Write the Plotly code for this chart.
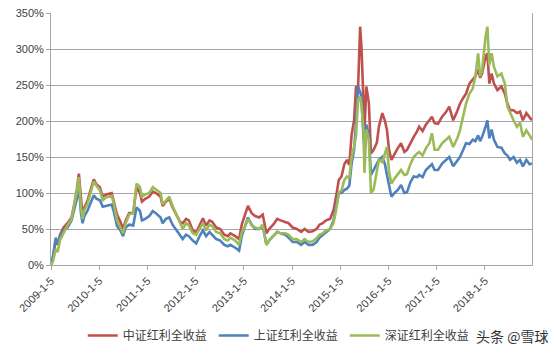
import plotly.graph_objects as go

dates = [
    "2009-01-05", "2009-01-20", "2009-02-10", "2009-02-25", "2009-03-15", "2009-04-10",
    "2009-05-10", "2009-06-10", "2009-07-01", "2009-07-20", "2009-08-04", "2009-08-20",
    "2009-09-01", "2009-09-15", "2009-10-10", "2009-11-10", "2009-11-25", "2009-12-15",
    "2010-01-10", "2010-02-01", "2010-03-01", "2010-04-10", "2010-04-25", "2010-05-20",
    "2010-06-15", "2010-07-05", "2010-07-25", "2010-08-20", "2010-09-20", "2010-10-15",
    "2010-11-10", "2010-11-25", "2010-12-20", "2011-01-20", "2011-02-15", "2011-03-10",
    "2011-04-15", "2011-05-01", "2011-05-25", "2011-06-20", "2011-07-15", "2011-08-15",
    "2011-09-10", "2011-09-30", "2011-10-25", "2011-11-15", "2011-12-15", "2012-01-10",
    "2012-02-10", "2012-03-01", "2012-03-25", "2012-04-20", "2012-05-10", "2012-06-10",
    "2012-07-10", "2012-08-10", "2012-09-05", "2012-09-25", "2012-11-01", "2012-11-30",
    "2012-12-20", "2013-01-20", "2013-02-05", "2013-03-05", "2013-04-01", "2013-05-01",
    "2013-05-28", "2013-06-25", "2013-07-15", "2013-08-15", "2013-09-15", "2013-10-10",
    "2013-11-15", "2013-12-10", "2014-01-10", "2014-02-10", "2014-03-15", "2014-04-10",
    "2014-05-10", "2014-06-10", "2014-07-10", "2014-08-01", "2014-08-25", "2014-09-20",
    "2014-10-20", "2014-11-15", "2014-12-05", "2014-12-25", "2015-01-15", "2015-02-05",
    "2015-02-25", "2015-03-15", "2015-04-01", "2015-04-20", "2015-05-05", "2015-05-20",
    "2015-06-05", "2015-06-15", "2015-06-30", "2015-07-08", "2015-07-22", "2015-08-10",
    "2015-08-26", "2015-09-15", "2015-10-10", "2015-10-25", "2015-11-20", "2015-12-10",
    "2015-12-25", "2016-01-10", "2016-01-28", "2016-02-20", "2016-03-15", "2016-04-10",
    "2016-05-05", "2016-05-25", "2016-06-20", "2016-07-15", "2016-08-10", "2016-08-25",
    "2016-09-20", "2016-10-15", "2016-11-10", "2016-11-30", "2016-12-20", "2017-01-15",
    "2017-02-15", "2017-03-15", "2017-04-10", "2017-05-10", "2017-06-10", "2017-06-30",
    "2017-07-25", "2017-08-15", "2017-09-10", "2017-10-05", "2017-10-25", "2017-11-15",
    "2017-11-30", "2017-12-15", "2018-01-10", "2018-01-24", "2018-02-08", "2018-02-25",
    "2018-03-15", "2018-04-10", "2018-05-10", "2018-06-05", "2018-06-25", "2018-07-15",
    "2018-08-10", "2018-09-05", "2018-09-28", "2018-10-20", "2018-11-15", "2018-12-10",
    "2018-12-28",
]

zz_red = [
    0, 10, 35, 28, 42, 52, 58, 66, 85, 105, 127, 85,
    68, 80, 90, 110, 119, 112,
    108, 95, 98, 100, 90, 70, 60, 50, 62, 72, 72, 108,
    100, 88, 92, 95, 102, 100, 95, 82, 88, 92, 80, 68,
    60, 58, 64, 62, 48, 45, 58, 65, 55, 62, 60, 52,
    50, 42, 40, 44, 40, 36, 56, 72, 82, 72, 68, 66,
    70, 44, 50, 56, 64, 62, 60, 58, 52, 50, 46, 50,
    46, 47, 50, 56, 58, 62, 64, 76, 95, 118, 123, 140,
    146, 139, 180, 201, 248, 245, 331, 303, 229, 187, 248, 225,
    155, 160, 170, 192, 211, 200, 188, 160, 146, 155, 162, 169,
    157, 160, 170, 178, 186, 192, 186, 195, 201, 206, 197, 196,
    206, 212, 220, 201, 214, 224, 232, 238, 252, 257, 262, 271,
    260, 266, 289, 294, 252, 266, 252, 243, 248, 238, 224, 215,
    215, 211, 213, 201, 211, 205, 201,
]

sz_blue = [
    0, 12, 38, 30, 40, 48, 52, 62, 78, 92, 110, 72,
    58, 68, 76, 92, 97, 92,
    90, 81, 82, 84, 75, 54, 48, 40, 52, 56, 55, 80,
    75, 62, 64, 68, 75, 72, 66, 58, 64, 66, 56, 48,
    40, 36, 42, 40, 34, 30, 42, 48, 40, 46, 42, 36,
    34, 28, 26, 28, 24, 20, 40, 56, 66, 56, 50, 50,
    54, 28, 34, 40, 46, 44, 42, 38, 32, 32, 28, 32,
    28, 28, 32, 38, 42, 46, 50, 62, 82, 100, 100, 104,
    106, 110, 140, 160, 197, 248, 240, 234, 178, 160, 195, 180,
    125, 132, 140, 146, 150, 140, 125, 110, 95, 100, 104, 111,
    100, 101, 115, 123, 122, 125, 122, 132, 137, 140, 132, 132,
    141, 146, 150, 137, 144, 150, 160, 169, 168, 174, 172, 180,
    172, 178, 192, 201, 176, 188, 174, 164, 163, 155, 152, 146,
    150, 142, 146, 137, 146, 140, 141,
]

shz_green = [
    0, 5, 22, 18, 35, 45, 55, 64, 82, 102, 122, 80,
    64, 76, 86, 106, 116, 110,
    104, 90, 94, 96, 86, 62, 52, 44, 58, 70, 72, 113,
    108, 95, 98, 100, 108, 105, 100, 84, 90, 95, 82, 70,
    58, 50, 58, 55, 44, 42, 52, 58, 48, 56, 54, 46,
    44, 36, 34, 38, 34, 28, 45, 56, 64, 55, 52, 50,
    56, 28, 34, 40, 46, 44, 44, 42, 36, 36, 32, 36,
    32, 33, 37, 42, 44, 48, 50, 58, 76, 100, 104, 118,
    123, 120, 150, 164, 180, 229, 234, 222, 188, 128, 188, 174,
    100, 105, 130, 146, 143, 156, 164, 130, 113, 120, 126, 132,
    125, 126, 140, 150, 155, 157, 152, 162, 169, 183, 160, 160,
    169, 174, 178, 164, 176, 187, 210, 224, 238, 245, 262, 294,
    262, 270, 317, 331, 278, 294, 275, 262, 266, 252, 220, 211,
    201, 192, 198, 178, 187, 180, 174,
]

series_names = ["中证红利全收益", "上证红利全收益", "深证红利全收益"]
series_values = [zz_red, sz_blue, shz_green]
series_colors = ["#C0504D", "#4F81BD", "#9BBB59"]

tick_dates = ["2009-01-05", "2010-01-05", "2011-01-05", "2012-01-05", "2013-01-05",
              "2014-01-05", "2015-01-05", "2016-01-05", "2017-01-05", "2018-01-05"]
tick_labels = ["2009-1-5", "2010-1-5", "2011-1-5", "2012-1-5", "2013-1-5",
               "2014-1-5", "2015-1-5", "2016-1-5", "2017-1-5", "2018-1-5"]

fig = go.Figure()
for name, vals, col in zip(series_names, series_values, series_colors):
    fig.add_trace(go.Scatter(x=dates, y=vals, name=name, mode="lines",
                             line=dict(color=col, width=2.6)))

grid = "#A6A6A6"
fig.update_layout(
    width=554, height=354,
    margin=dict(l=51, r=22, t=13, b=89, autoexpand=False),
    paper_bgcolor="white", plot_bgcolor="white",
    font=dict(family="Liberation Sans, Arial, sans-serif", size=11, color="#595959"),
    showlegend=True,
    legend=dict(orientation="h", x=0.066, xanchor="left", y=-0.28, yanchor="middle",
                entrywidth=86, entrywidthmode="pixels",
                font=dict(family="Noto Sans CJK SC", size=12, color="#404040"),
                bgcolor="rgba(0,0,0,0)"),
    xaxis=dict(type="date", range=["2009-01-05", "2018-12-28"],
               tickvals=tick_dates, ticktext=tick_labels, tickangle=-45,
               showgrid=False, showline=True, linecolor=grid, linewidth=1,
               ticks="outside", ticklen=4, tickcolor=grid, zeroline=False,
               automargin=False,
               tickfont=dict(size=11, color="#404040")),
    yaxis=dict(range=[0, 350], dtick=50, ticksuffix="%",
               showgrid=True, gridcolor=grid, gridwidth=1,
               showline=True, linecolor=grid, linewidth=1, mirror=True,
               ticks="outside", ticklen=4, tickcolor=grid, zeroline=False,
               automargin=False,
               tickfont=dict(size=11, color="#404040")),
)

fig.add_annotation(text="头条 @雪球", xref="paper", yref="paper",
                   x=1.038, y=-0.28, xanchor="right", yanchor="middle",
                   showarrow=False,
                   font=dict(family="Noto Sans CJK SC", size=14, color="#333333"))

fig.write_html("out.html")
